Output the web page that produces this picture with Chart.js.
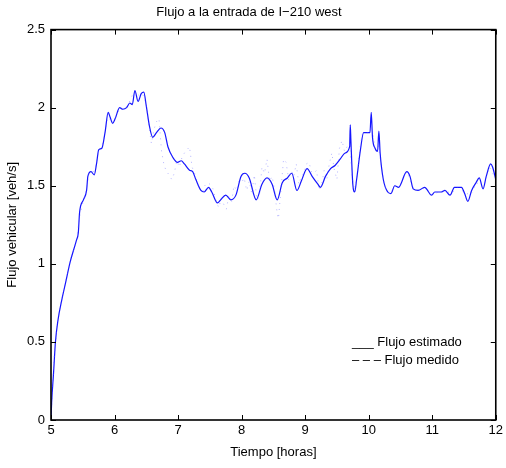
<!DOCTYPE html>
<html lang="es">
  <head>
    <meta charset="UTF-8" />
    <title>Flujo I-210 west</title>
    <script src="https://cdn.jsdelivr.net/npm/chart.js@4.4.0/dist/chart.umd.min.js"></script>
    <style>
      body { margin: 0; background: #fff; }
      #wrap { width: 506px; height: 468px; }
    </style>
  </head>
  <body>
    <div id="wrap"><canvas id="myChart"></canvas></div>

    <script>
      // valores (hora, veh/s)
      const estHoras = [5.00, 5.01, 5.04, 5.07, 5.11, 5.17, 5.23, 5.30, 5.40, 5.43, 5.45, 5.51, 5.56, 5.58, 5.63, 5.68,
        5.72, 5.75, 5.80, 5.85, 5.90, 5.93, 5.97, 6.01, 6.08, 6.13, 6.19, 6.24, 6.28, 6.32, 6.37, 6.42, 6.46,
        6.50, 6.55, 6.60, 6.66, 6.73, 6.79, 6.84, 6.92, 6.99, 7.05, 7.10, 7.18, 7.23, 7.28, 7.36, 7.41, 7.48,
        7.53, 7.62, 7.67, 7.75, 7.83, 7.91, 7.99, 8.05, 8.12, 8.23, 8.32, 8.40, 8.48, 8.56, 8.64, 8.72, 8.79,
        8.87, 8.94, 9.03, 9.11, 9.20, 9.24, 9.32, 9.40, 9.47, 9.55, 9.63, 9.70, 9.71, 9.72, 9.75, 9.78, 9.81,
        9.87, 9.92, 10.00, 10.02, 10.04, 10.06, 10.10, 10.14, 10.16, 10.18, 10.23, 10.30, 10.35, 10.41, 10.47,
        10.60, 10.65, 10.70, 10.78, 10.88, 10.99, 11.04, 11.14, 11.20, 11.28, 11.35, 11.46, 11.51, 11.56,
        11.62, 11.69, 11.74, 11.80, 11.85, 11.92, 11.95, 12.00];
      const estFlujo = [0.00, 0.11, 0.30, 0.50, 0.64, 0.77, 0.88, 1.01, 1.15, 1.20, 1.33, 1.41, 1.47, 1.56, 1.59, 1.57,
        1.65, 1.73, 1.74, 1.84, 1.97, 1.94, 1.90, 1.93, 2.00, 1.99, 2.00, 2.03, 2.02, 2.11, 2.04, 2.09, 2.10,
        2.01, 1.88, 1.81, 1.84, 1.87, 1.84, 1.75, 1.68, 1.65, 1.66, 1.64, 1.60, 1.59, 1.54, 1.47, 1.46, 1.49,
        1.46, 1.39, 1.41, 1.44, 1.41, 1.44, 1.56, 1.58, 1.55, 1.41, 1.51, 1.55, 1.51, 1.41, 1.52, 1.55, 1.58,
        1.47, 1.53, 1.61, 1.56, 1.51, 1.49, 1.56, 1.61, 1.63, 1.67, 1.71, 1.75, 1.89, 1.79, 1.51, 1.46, 1.54,
        1.73, 1.84, 1.84, 1.84, 1.97, 1.81, 1.74, 1.72, 1.85, 1.71, 1.54, 1.46, 1.45, 1.50, 1.49,
        1.59, 1.56, 1.48, 1.47, 1.49, 1.44, 1.46, 1.46, 1.47, 1.44, 1.49, 1.49, 1.45, 1.40,
        1.47, 1.52, 1.55, 1.48, 1.56, 1.64, 1.62, 1.54];

      const medHoras = [5.00, 5.05, 5.10, 5.15, 5.20, 5.25, 5.30, 5.35, 5.40, 5.45, 5.50, 5.55, 5.60, 5.65, 5.70,
        5.75, 5.80, 5.85, 5.90, 5.95, 6.00, 6.05, 6.10, 6.15, 6.20, 6.25, 6.30, 6.35, 6.40, 6.45, 6.50, 6.55,
        6.58, 6.62, 6.66, 6.70, 6.74, 6.78, 6.82, 6.86, 6.90, 6.94, 6.98, 7.02, 7.06, 7.10, 7.14, 7.18, 7.22,
        7.26, 7.30, 7.34, 7.38, 7.42, 7.46, 7.50, 7.55, 7.60, 7.64, 7.68, 7.72, 7.76, 7.80, 7.84, 7.88, 7.92,
        7.96, 8.00, 8.04, 8.08, 8.12, 8.16, 8.20, 8.24, 8.28, 8.32, 8.36, 8.40, 8.44, 8.48, 8.52, 8.56, 8.58,
        8.62, 8.66, 8.70, 8.74, 8.78, 8.82, 8.86, 8.90, 8.94, 8.98, 9.02, 9.06, 9.10, 9.14, 9.18, 9.22, 9.26,
        9.30, 9.34, 9.38, 9.42, 9.46, 9.50, 9.54, 9.58, 9.62, 9.66, 9.70, 9.74, 9.78, 9.82, 9.86, 9.90, 9.95,
        10.00, 10.05, 10.10, 10.15, 10.20, 10.25, 10.30, 10.35, 10.40, 10.50, 10.60, 10.70, 10.80, 10.90,
        11.00, 11.10, 11.20, 11.30, 11.40, 11.50, 11.60, 11.70, 11.80, 11.90, 12.00];
      const medFlujo = [0.02, 0.40, 0.62, 0.74, 0.83, 0.92, 1.01, 1.08, 1.15, 1.30, 1.39, 1.46, 1.58, 1.58, 1.62,
        1.73, 1.75, 1.84, 1.96, 1.90, 1.92, 1.97, 2.00, 1.99, 2.01, 2.05, 2.10, 2.07, 2.09, 2.08, 2.02, 1.86,
        1.77, 1.86, 1.91, 1.93, 1.72, 1.63, 1.59, 1.57, 1.54, 1.58, 1.66, 1.62, 1.68, 1.71, 1.73, 1.75, 1.62,
        1.58, 1.52, 1.48, 1.45, 1.50, 1.52, 1.51, 1.48, 1.40, 1.36, 1.42, 1.38, 1.35, 1.44, 1.39, 1.50, 1.47,
        1.53, 1.52, 1.55, 1.47, 1.53, 1.45, 1.57, 1.41, 1.43, 1.62, 1.58, 1.67, 1.53, 1.56, 1.47, 1.32, 1.29,
        1.48, 1.67, 1.65, 1.54, 1.60, 1.56, 1.64, 1.51, 1.56, 1.58, 1.64, 1.65, 1.59, 1.58, 1.60, 1.47, 1.51,
        1.60, 1.54, 1.64, 1.71, 1.60, 1.54, 1.74, 1.79, 1.72, 1.75, 1.77, 1.55, 1.47, 1.57, 1.73, 1.83, 1.84,
        1.84, 1.88, 1.74, 1.76, 1.62, 1.50, 1.46, 1.45, 1.50, 1.51, 1.59, 1.49, 1.47, 1.49,
        1.44, 1.46, 1.47, 1.45, 1.49, 1.46, 1.44, 1.52, 1.49, 1.62, 1.54];

      const xTicks = [5, 6, 7, 8, 9, 10, 11, 12];
      const yTicks = [0, 0.5, 1, 1.5, 2, 2.5];
      const leyenda = ['___ Flujo estimado', '\u2013 \u2013 \u2013 Flujo medido'];

      const FONT = 'Liberation Sans';

      // marco tipo matlab: caja completa con ticks hacia dentro
      const marco = {
        id: 'marco',
        afterDraw(chart) {
          const ctx = chart.ctx;
          const a = chart.chartArea;
          const xs = chart.scales.x;
          const ys = chart.scales.y;
          ctx.save();
          ctx.strokeStyle = '#000';
          ctx.lineWidth = 1;
          xTicks.forEach(v => {
            const px = Math.round(xs.getPixelForValue(v)) + 0.5;
            ctx.beginPath();
            ctx.moveTo(px, a.bottom); ctx.lineTo(px, a.bottom - 5);
            ctx.moveTo(px, a.top); ctx.lineTo(px, a.top + 5);
            ctx.stroke();
          });
          yTicks.forEach(v => {
            const py = Math.round(ys.getPixelForValue(v)) + 0.5;
            ctx.beginPath();
            ctx.moveTo(a.left, py); ctx.lineTo(a.left + 5, py);
            ctx.moveTo(a.right, py); ctx.lineTo(a.right - 5, py);
            ctx.stroke();
          });
          ctx.lineWidth = 1.6;
          ctx.strokeRect(a.left, a.top, a.right - a.left, a.bottom - a.top);

          ctx.fillStyle = '#000';
          ctx.font = '13px "' + FONT + '"';
          ctx.textBaseline = 'alphabetic';
          ctx.fillText(leyenda[0], 352, 346);
          ctx.fillText(leyenda[1], 352, 364);
          ctx.restore();
        }
      };

      window.addEventListener('load', setup);

      function setup() {
        const ctx = document.getElementById('myChart').getContext('2d');
        const est = estHoras.map((h, i) => ({ x: h, y: estFlujo[i] }));
        const med = medHoras.map((h, i) => ({ x: h, y: medFlujo[i] }));

        new Chart(ctx, {
          type: 'line',
          data: {
            datasets: [
              {
                label: 'Flujo medido',
                data: med,
                borderColor: 'rgba(90, 90, 255, 0.45)',
                borderWidth: 1,
                borderDash: [1, 5],
                pointRadius: 0,
                fill: false,
                tension: 0
              },
              {
                label: 'Flujo estimado',
                data: est,
                borderColor: '#1515ff',
                borderWidth: 1.2,
                pointRadius: 0,
                fill: false,
                cubicInterpolationMode: 'monotone'
              }
            ]
          },
          plugins: [marco],
          options: {
            responsive: true,
            maintainAspectRatio: false,
            animation: false,
            layout: { padding: { left: 0, right: 8, top: 0, bottom: 0 } },
            plugins: {
              legend: { display: false },
              tooltip: { enabled: false },
              title: {
                display: true,
                text: 'Flujo a la entrada de I\u2212210 west',
                color: '#000',
                font: { family: FONT, size: 13, weight: 'normal' },
                padding: { top: 5, bottom: 9 }
              }
            },
            scales: {
              x: {
                type: 'linear',
                min: 5,
                max: 12,
                afterFit: s => { s.height = 48; },
                afterBuildTicks: s => { s.ticks = xTicks.map(v => ({ value: v })); },
                grid: { display: false, drawTicks: false },
                border: { display: false },
                ticks: { color: '#000', padding: 3, font: { family: FONT, size: 13 } },
                title: {
                  display: true,
                  text: 'Tiempo [horas]',
                  color: '#000',
                  font: { family: FONT, size: 13 },
                  padding: { top: 0, bottom: 8 }
                }
              },
              y: {
                min: 0,
                max: 2.5,
                afterFit: s => { s.width = 51; },
                afterBuildTicks: s => { s.ticks = yTicks.map(v => ({ value: v })); },
                grid: { display: false, drawTicks: false },
                border: { display: false },
                ticks: {
                  color: '#000',
                  padding: 6,
                  font: { family: FONT, size: 13 },
                  callback: v => String(v)
                },
                title: {
                  display: true,
                  text: 'Flujo vehicular [veh/s]',
                  color: '#000',
                  font: { family: FONT, size: 13 },
                  padding: { top: 5, bottom: 0 }
                }
              }
            }
          }
        });
      }
    </script>
  </body>
</html>
